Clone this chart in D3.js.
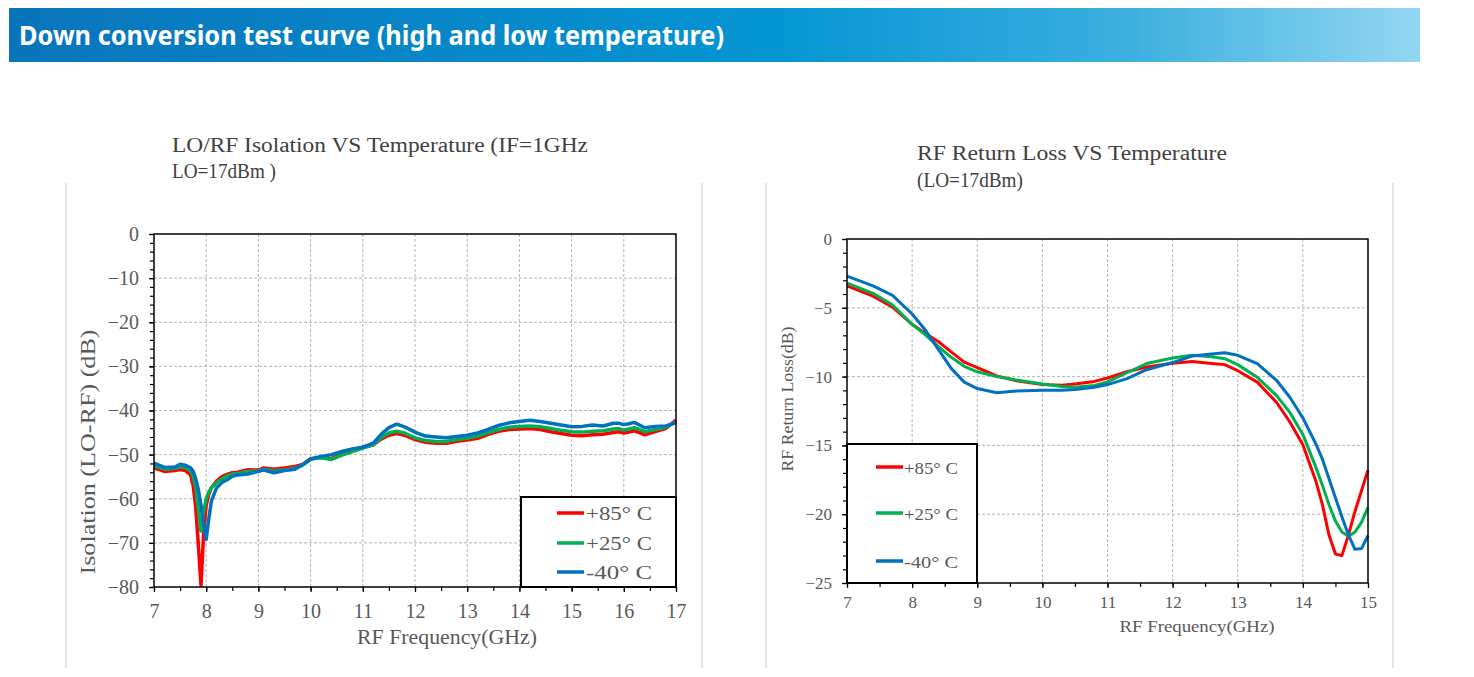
<!DOCTYPE html>
<html>
<head>
<meta charset="utf-8">
<script src="https://cdn.jsdelivr.net/npm/d3@7"></script>
<style>
  html, body { margin: 0; padding: 0; background: #fff; }
  svg { display: block; }
</style>
</head>
<body>
<svg id="chart" width="1474" height="677"></svg>
<script>
// ---------------- DATA ----------------
const headerTitle = "Down conversion test curve (high and low temperature)";
const seriesNames = ["+85° C", "+25° C", "-40° C"];
const seriesColors = ["#ff0000", "#00b050", "#0070c0"];

// Chart 1: LO/RF isolation
const isoTitle = ["LO/RF Isolation VS Temperature (IF=1GHz", "LO=17dBm )"];
const isoXLabel = "RF Frequency(GHz)";
const isoYLabel = "Isolation (LO-RF) (dB)";
const isoXTicks = [7, 8, 9, 10, 11, 12, 13, 14, 15, 16, 17];
const isoYTicks = [0, -10, -20, -30, -40, -50, -60, -70, -80];
const isoFreq = [7.0, 7.2, 7.4, 7.5, 7.6, 7.7, 7.75, 7.8, 7.85, 7.9, 7.95, 8.0, 8.05, 8.1, 8.2, 8.3, 8.4, 8.5, 8.6, 8.8,
  9.0, 9.1, 9.3, 9.5, 9.7, 9.85, 10.0, 10.2, 10.4, 10.6, 10.8, 11.0, 11.2, 11.35, 11.5, 11.65, 11.8, 12.0, 12.2, 12.4,
  12.6, 12.8, 13.0, 13.2, 13.4, 13.6, 13.8, 14.0, 14.2, 14.4, 14.6, 14.8, 15.0, 15.2, 15.4, 15.6, 15.8, 15.9, 16.0,
  16.1, 16.2, 16.3, 16.4, 16.6, 16.8, 17.0];
const iso85 = [-53.0, -53.8, -53.6, -53.4, -53.6, -54.6, -57.0, -62.0, -70.5, -79.6, -68.0, -61.5, -59.0, -57.5, -56.0,
  -55.0, -54.5, -54.1, -54.0, -53.4, -53.5, -53.0, -53.3, -53.0, -52.7, -52.2, -51.0, -50.6, -50.9, -49.8, -49.0, -48.3,
  -47.8, -46.5, -45.6, -45.2, -45.6, -46.6, -47.2, -47.4, -47.4, -47.0, -46.7, -46.3, -45.4, -44.7, -44.3, -44.2, -44.1,
  -44.3, -44.8, -45.2, -45.6, -45.7, -45.5, -45.4, -45.0, -44.8, -45.1, -44.9, -44.6, -45.0, -45.5, -44.8, -44.1, -42.2];
const iso25 = [-52.5, -53.3, -53.1, -52.8, -52.9, -53.6, -55.0, -57.5, -62.5, -67.3, -63.0, -60.0, -58.5, -57.5, -56.3,
  -55.5, -54.8, -54.4, -54.3, -53.8, -53.7, -53.3, -53.7, -53.4, -53.1, -52.4, -51.0, -50.7, -51.1, -50.1, -49.3, -48.5,
  -47.8, -46.2, -45.1, -44.7, -45.1, -46.2, -46.8, -47.0, -47.0, -46.6, -46.3, -45.8, -45.0, -44.3, -43.8, -43.6, -43.5,
  -43.7, -44.1, -44.5, -44.8, -44.9, -44.7, -44.6, -44.2, -44.1, -44.4, -44.2, -43.9, -44.3, -44.8, -44.3, -43.8, -42.6];
const isoM40 = [-51.9, -52.9, -52.8, -52.2, -52.4, -53.0, -53.8, -55.5, -58.0, -61.5, -66.0, -69.2, -64.5, -60.5, -57.5,
  -56.3, -55.7, -54.9, -54.6, -54.4, -53.8, -53.5, -54.1, -53.6, -53.3, -52.2, -51.0, -50.4, -50.0, -49.3, -48.7, -48.3,
  -47.4, -45.4, -43.9, -43.1, -43.7, -44.9, -45.8, -46.0, -46.2, -45.9, -45.6, -45.1, -44.3, -43.4, -42.8, -42.5, -42.2,
  -42.5, -42.9, -43.3, -43.7, -43.6, -43.3, -43.5, -42.9, -42.9, -43.2, -43.0, -42.7, -43.3, -43.9, -43.6, -43.5, -42.8];

// Chart 2: RF return loss
const rlTitle = ["RF Return Loss VS Temperature", "(LO=17dBm)"];
const rlXLabel = "RF Frequency(GHz)";
const rlYLabel = "RF Return Loss(dB)";
const rlXTicks = [7, 8, 9, 10, 11, 12, 13, 14, 15];
const rlYTicks = [0, -5, -10, -15, -20, -25];
const rlFreq = [7.0, 7.4, 7.7, 8.0, 8.2, 8.4, 8.6, 8.8, 9.0, 9.3, 9.6, 10.0, 10.3, 10.5, 10.8, 11.0, 11.3, 11.6, 12.0,
  12.3, 12.6, 12.8, 13.0, 13.3, 13.6, 13.8, 14.0, 14.2, 14.3, 14.4, 14.5, 14.6, 14.7, 14.8, 14.9, 15.0];
const rl85 = [-3.4, -4.15, -4.95, -6.2, -6.85, -7.45, -8.2, -8.95, -9.35, -9.95, -10.3, -10.58, -10.63, -10.53, -10.35,
  -10.1, -9.65, -9.3, -9.03, -8.9, -9.05, -9.13, -9.57, -10.4, -11.9, -13.3, -14.95, -17.6, -19.3, -21.5, -22.9, -23.0,
  -21.5, -19.8, -18.3, -16.8];
const rl25 = [-3.2, -3.95, -4.8, -6.2, -6.95, -7.8, -8.6, -9.25, -9.65, -10.0, -10.25, -10.53, -10.72, -10.77, -10.65,
  -10.39, -9.72, -9.05, -8.65, -8.45, -8.55, -8.7, -9.13, -10.05, -11.4, -12.6, -14.2, -16.6, -17.9, -19.3, -20.5, -21.3,
  -21.6, -21.3, -20.6, -19.5];
const rlM40 = [-2.7, -3.4, -4.1, -5.45, -6.6, -8.0, -9.4, -10.4, -10.87, -11.18, -11.05, -11.0, -11.0, -10.93, -10.78,
  -10.58, -10.15, -9.5, -8.98, -8.5, -8.36, -8.26, -8.45, -9.05, -10.3, -11.5, -13.0, -14.9, -16.0, -17.4, -18.8, -20.2,
  -21.5, -22.55, -22.5, -21.55];

// ---------------- DRAW ----------------
const svg = d3.select("#chart");
const serif = "'Liberation Serif', 'DejaVu Serif', serif";

// header band
const defs = svg.append("defs");
const grad = defs.append("linearGradient").attr("id", "hdr").attr("x1", "0%").attr("x2", "100%");
grad.append("stop").attr("offset", "0%").attr("stop-color", "#0a74bb");
grad.append("stop").attr("offset", "55%").attr("stop-color", "#0596d3");
grad.append("stop").attr("offset", "80%").attr("stop-color", "#3eb0e0");
grad.append("stop").attr("offset", "100%").attr("stop-color", "#93d7f2");
svg.append("rect").attr("x", 9).attr("y", 8).attr("width", 1411).attr("height", 54).attr("fill", "url(#hdr)");
svg.append("text").attr("x", 19).attr("y", 45)
  .attr("font-family", "'Noto Sans', 'Open Sans', sans-serif").attr("font-weight", "bold")
  .attr("font-size", 26).attr("fill", "#fff")
  .attr("textLength", 705).attr("lengthAdjust", "spacingAndGlyphs")
  .text(headerTitle);

// panel side lines
[66, 702, 766, 1393].forEach(x => {
  svg.append("line").attr("x1", x).attr("x2", x).attr("y1", 183).attr("y2", 668)
    .attr("stroke", "#dcdcdc").attr("stroke-width", 1.5);
});

function drawChart(cfg) {
  const g = svg.append("g");
  const x = d3.scaleLinear().domain(cfg.xDomain).range([cfg.left, cfg.right]);
  const y = d3.scaleLinear().domain(cfg.yDomain).range([cfg.bottom, cfg.top]);

  // titles
  cfg.title.forEach((t, i) => {
    g.append("text").attr("x", cfg.titleX).attr("y", cfg.titleY[i])
      .attr("font-family", serif).attr("font-size", 20).attr("fill", "#404040")
      .attr("textLength", cfg.titleLen[i]).attr("lengthAdjust", "spacingAndGlyphs")
      .text(t);
  });

  // grid
  const grid = g.append("g").attr("stroke", "#b4b4b4").attr("stroke-width", 1).attr("stroke-dasharray", "3,2");
  cfg.xTicks.slice(1, -1).forEach(v => {
    grid.append("line").attr("x1", x(v)).attr("x2", x(v)).attr("y1", cfg.top).attr("y2", cfg.bottom);
  });
  cfg.yTicks.slice(1, -1).forEach(v => {
    grid.append("line").attr("x1", cfg.left).attr("x2", cfg.right).attr("y1", y(v)).attr("y2", y(v));
  });

  // axes
  const fmt = d => d === 0 ? "0" : "\u2212" + Math.abs(d);
  const yAxis = g.append("g").attr("transform", `translate(${cfg.left},0)`)
    .call(d3.axisLeft(y).tickValues(cfg.yTicks).tickSize(5).tickPadding(cfg.yPad).tickFormat(fmt));
  const yMinor = g.append("g").attr("transform", `translate(${cfg.left},0)`)
    .call(d3.axisLeft(y).tickValues(d3.range(cfg.yDomain[0], cfg.yDomain[1] + 0.001, cfg.yMinorStep)).tickSize(4).tickFormat(""));
  const xAxis = g.append("g").attr("transform", `translate(0,${cfg.bottom})`)
    .call(d3.axisBottom(x).tickValues(cfg.xTicks).tickSize(5).tickPadding(cfg.xPad).tickFormat(d3.format("d")));
  const xMinor = g.append("g").attr("transform", `translate(0,${cfg.bottom})`)
    .call(d3.axisBottom(x).tickValues(d3.range(cfg.xDomain[0], cfg.xDomain[1] + 0.001, 0.5)).tickSize(4).tickFormat(""));
  [yAxis, yMinor, xAxis, xMinor].forEach(a => {
    a.select(".domain").remove();
    a.selectAll("line").attr("stroke", "#000").attr("stroke-width", 1.2);
    a.selectAll("text").attr("font-family", serif).attr("font-size", cfg.tickFont).attr("fill", "#595959");
  });

  // series
  const line = d3.line().x(d => x(d[0])).y(d => y(d[1]));
  cfg.series.forEach((s, i) => {
    const pts = cfg.freq.map((f, k) => [f, s[k]]);
    g.append("path").datum(pts).attr("d", line).attr("fill", "none")
      .attr("stroke", seriesColors[i]).attr("stroke-width", cfg.lineWidth)
      .attr("stroke-linejoin", "round");
  });

  // frame
  g.append("rect").attr("x", cfg.left).attr("y", cfg.top)
    .attr("width", cfg.right - cfg.left).attr("height", cfg.bottom - cfg.top)
    .attr("fill", "none").attr("stroke", "#000").attr("stroke-width", 1.5);

  // axis titles
  g.append("text").attr("x", cfg.xTitlePos[0]).attr("y", cfg.xTitlePos[1])
    .attr("text-anchor", "middle").attr("font-family", serif).attr("font-size", cfg.axisFont)
    .attr("fill", "#595959").attr("textLength", cfg.xTitleLen).attr("lengthAdjust", "spacingAndGlyphs")
    .text(cfg.xLabel);
  g.append("text").attr("transform", `translate(${cfg.yTitlePos[0]},${cfg.yTitlePos[1]}) rotate(-90)`)
    .attr("text-anchor", "middle").attr("font-family", serif).attr("font-size", cfg.axisFont)
    .attr("fill", "#595959").attr("textLength", cfg.yTitleLen).attr("lengthAdjust", "spacingAndGlyphs")
    .text(cfg.yLabel);

  // legend
  const L = cfg.legend;
  g.append("rect").attr("x", L.x).attr("y", L.y).attr("width", L.w).attr("height", L.h)
    .attr("fill", "#fff").attr("stroke", "#000").attr("stroke-width", 2);
  seriesNames.forEach((n, i) => {
    g.append("line").attr("x1", L.lx1).attr("x2", L.lx2).attr("y1", L.rows[i]).attr("y2", L.rows[i])
      .attr("stroke", seriesColors[i]).attr("stroke-width", 3.5);
    g.append("text").attr("x", L.tx).attr("y", L.rows[i] + L.textDy)
      .attr("font-family", serif).attr("font-size", L.font).attr("fill", "#595959")
      .attr("textLength", L.textLen).attr("lengthAdjust", "spacingAndGlyphs")
      .text(n);
  });
}

drawChart({
  left: 154, right: 676, top: 234, bottom: 587,
  xDomain: [7, 17], yDomain: [-80, 0], xTicks: isoXTicks, yTicks: isoYTicks, yMinorStep: 2,
  freq: isoFreq, series: [iso85, iso25, isoM40],
  title: isoTitle, titleX: 172, titleY: [152, 178], titleLen: [416, 104],
  yPad: 10, xPad: 12, tickFont: 20, axisFont: 20, lineWidth: 3.5,
  xLabel: isoXLabel, xTitlePos: [447, 644], xTitleLen: 180,
  yLabel: isoYLabel, yTitlePos: [95, 452], yTitleLen: 245,
  legend: { x: 521, y: 497, w: 155, h: 90, lx1: 557, lx2: 584, tx: 586, rows: [513, 543, 572], textDy: 7, font: 19, textLen: 66 }
});

drawChart({
  left: 847, right: 1368, top: 239, bottom: 583,
  xDomain: [7, 15], yDomain: [-25, 0], xTicks: rlXTicks, yTicks: rlYTicks, yMinorStep: 1,
  freq: rlFreq, series: [rl85, rl25, rlM40],
  title: rlTitle, titleX: 917, titleY: [160, 187], titleLen: [310, 106],
  yPad: 10, xPad: 8, tickFont: 17, axisFont: 17, lineWidth: 3,
  xLabel: rlXLabel, xTitlePos: [1197, 632], xTitleLen: 155,
  yLabel: rlYLabel, yTitlePos: [793, 399], yTitleLen: 145,
  legend: { x: 847, y: 444, w: 130, h: 139, lx1: 876, lx2: 903, tx: 904, rows: [467, 513, 561], textDy: 7, font: 16, textLen: 54 }
});
</script>
</body>
</html>
